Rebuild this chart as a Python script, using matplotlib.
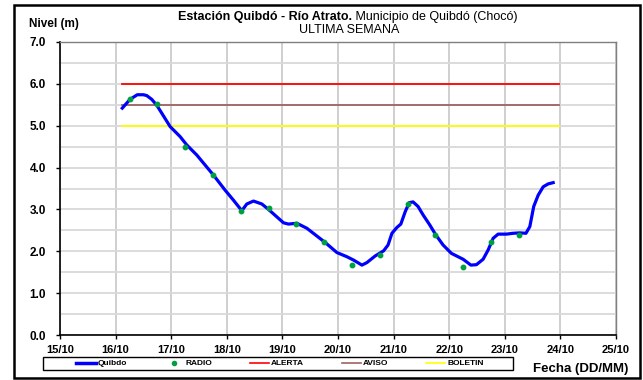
import numpy as np
import matplotlib
matplotlib.use("Agg")
import matplotlib.pyplot as plt
from matplotlib.lines import Line2D
from matplotlib.patches import Rectangle

plt.rcParams['font.family'] = ['Liberation Sans', 'DejaVu Sans']

# nivel horario estacion Quibdo (dia del mes de octubre, metros)
dias_nivel = [16.12, 16.26, 16.39, 16.50, 16.56, 16.65, 16.74, 16.83, 16.98,
              17.16, 17.28, 17.46, 17.61, 17.76, 17.97, 18.12, 18.27, 18.36,
              18.48, 18.63, 18.75, 19.02, 19.11, 19.26, 19.44, 19.77, 19.98,
              20.16, 20.28, 20.43, 20.52, 20.67, 20.82, 20.90, 20.97, 21.06,
              21.13, 21.21, 21.28, 21.35, 21.44, 21.53, 21.65, 21.76, 21.89,
              22.04, 22.25, 22.39, 22.49, 22.61, 22.70, 22.79, 22.88, 23.03,
              23.15, 23.27, 23.38, 23.45, 23.52, 23.60, 23.69, 23.78, 23.87]
nivel = [5.42, 5.63, 5.74, 5.74, 5.72, 5.63, 5.49, 5.30, 4.98,
         4.74, 4.54, 4.30, 4.06, 3.82, 3.46, 3.22, 2.97, 3.13,
         3.20, 3.13, 3.00, 2.68, 2.65, 2.67, 2.55, 2.21, 1.97,
         1.87, 1.79, 1.67, 1.73, 1.89, 2.01, 2.15, 2.43, 2.57,
         2.65, 2.95, 3.16, 3.18, 3.07, 2.87, 2.63, 2.39, 2.15,
         1.95, 1.81, 1.67, 1.68, 1.81, 2.03, 2.31, 2.41, 2.41,
         2.43, 2.44, 2.43, 2.59, 3.07, 3.34, 3.54, 3.61, 3.64]

# lecturas por radio (6am y 6pm)
dias_radio = [16.25, 16.75, 17.25, 17.75, 18.25, 18.75, 19.25, 19.75,
              20.25, 20.75, 21.25, 21.75, 22.25, 22.75, 23.25]
nivel_radio = [5.63, 5.51, 4.48, 3.82, 2.96, 3.03, 2.66, 2.21,
               1.68, 1.91, 3.14, 2.39, 1.63, 2.21, 2.39]

# umbrales
umbral_nombres = ['ALERTA', 'AVISO', 'BOLETIN']
umbral_valores = [6.0, 5.5, 5.0]
umbral_colores = ['#ff0000', '#a06262', '#ffff00']
umbral_inicio = 16.12
umbral_fin = 23.97

dias_eje = list(range(15, 26))
etiquetas_eje = ['%d/10' % d for d in dias_eje]

W, H = 643, 380


def fx(x):
    return x / W


def fy(y):
    return 1 - y / H


fig = plt.figure(figsize=(W / 100, H / 100), dpi=100)
ax = fig.add_axes([fx(60), fy(335), fx(616) - fx(60), fy(42) - fy(335)])

ax.set_xlim(15, 25)
ax.set_ylim(0, 7)
ax.set_xticks(dias_eje)
ax.set_xticklabels(etiquetas_eje)
ax.set_yticks(np.arange(0, 7.1, 1.0))
ax.set_yticklabels(['%.1f' % v for v in np.arange(0, 7.1, 1.0)])
ax.set_yticks(np.arange(0.5, 7, 1.0), minor=True)
ax.tick_params(axis='both', which='major', direction='out', length=3,
               width=1, labelsize=8)
ax.tick_params(axis='y', which='major', labelsize=8.5)
ax.tick_params(axis='y', which='minor', length=0)
ax.tick_params(axis='y', pad=7)
ax.tick_params(axis='x', pad=4)
for lab in ax.get_xticklabels() + ax.get_yticklabels():
    lab.set_fontweight('bold')

ax.grid(True, which='both', axis='y', color='#d9d9d9', lw=1.3, zorder=0)
ax.grid(True, which='major', axis='x', color='#cccccc', lw=1.3, zorder=0)
ax.set_axisbelow(True)

for s in ['left', 'bottom']:
    ax.spines[s].set_color('black')
    ax.spines[s].set_linewidth(1.2)
for s in ['top', 'right']:
    ax.spines[s].set_color('#7f7f7f')
    ax.spines[s].set_linewidth(1.0)

for val, col in zip(umbral_valores, umbral_colores):
    ax.plot([umbral_inicio, umbral_fin], [val, val], color=col, lw=1.3, zorder=2)

ax.plot(dias_nivel, nivel, color='#0000ff', lw=2.3, zorder=3)
ax.plot(dias_radio, nivel_radio, ls='none', marker='o', ms=3.2,
        color='#00a040', zorder=4)

# titulos: parte en negrita y parte normal en la misma linea
fig.text(fx(352), fy(17), 'Estación Quibdó - Río Atrato.', ha='right',
         va='center', fontsize=9, fontweight='bold')
fig.text(fx(352), fy(17), ' Municipio de Quibdó (Chocó)', ha='left',
         va='center', fontsize=9)
fig.text(fx(349), fy(30), 'ULTIMA SEMANA', ha='center', va='center',
         fontsize=9)
fig.text(fx(29), fy(24), 'Nivel (m)', ha='left', va='center',
         fontsize=8.5, fontweight='bold')
fig.text(fx(628), fy(369), 'Fecha (DD/MM)', ha='right', va='center',
         fontsize=9.5, fontweight='bold')

# leyenda
handles = [Line2D([], [], color='#0000ff', lw=2.5),
           Line2D([], [], ls='none', marker='o', ms=3, color='#00a040')]
handles += [Line2D([], [], color=c, lw=1.2) for c in umbral_colores]
labels = ['Quibdo', 'RADIO'] + umbral_nombres
leg = fig.legend(handles, labels, ncol=5, loc='center',
                 bbox_to_anchor=(fx(280), fy(363.5)), frameon=False,
                 prop={'size': 6, 'weight': 'bold'}, handlelength=2.3,
                 handletextpad=0.25, columnspacing=4.5, borderpad=0.1)
fig.patches.append(Rectangle((fx(43), fy(370)), fx(513) - fx(43),
                             fy(357) - fy(370), transform=fig.transFigure,
                             fill=False, edgecolor='black', lw=1.0))

# marco exterior
fig.patches.append(Rectangle((fx(14), fy(378)), fx(640) - fx(14),
                             fy(5) - fy(378), transform=fig.transFigure,
                             fill=False, edgecolor='black', lw=1.8))

fig.savefig('out.png', dpi=100)
